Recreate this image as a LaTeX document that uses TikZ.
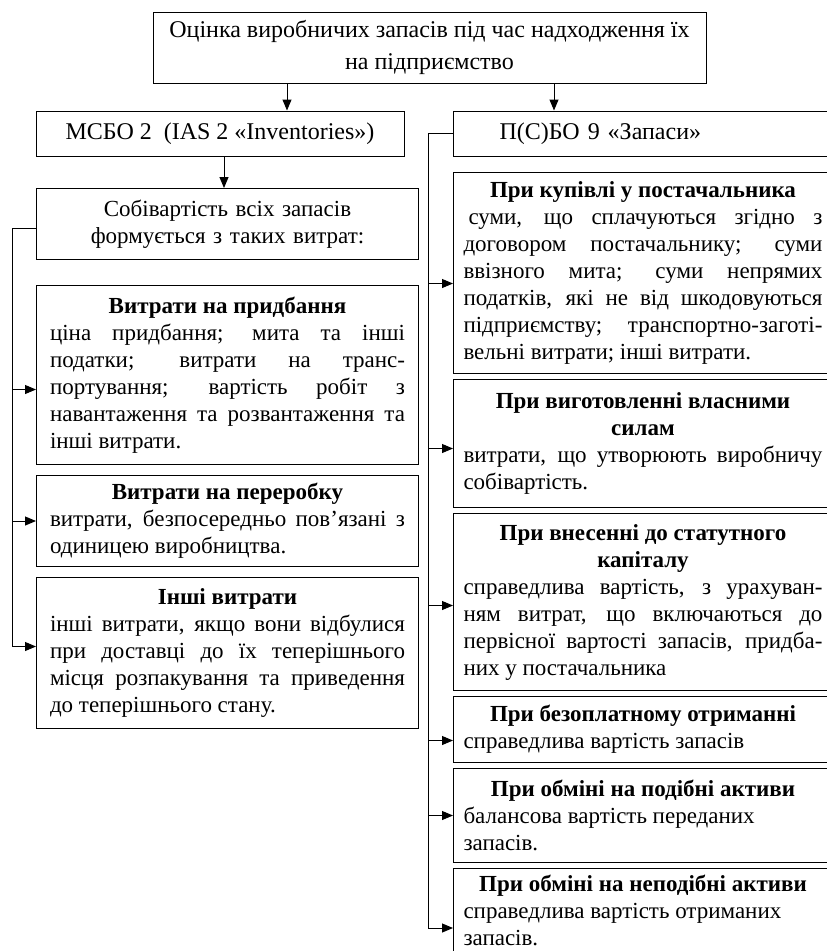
\documentclass[tikz,border=0pt]{standalone}
\usepackage{fontspec}
\setmainfont{Liberation Serif}
\usepackage{tikz}
\usetikzlibrary{arrows.meta, positioning, calc}
\setlength{\parindent}{0pt}
\tolerance=10000
\tikzset{
    block/.style={
        rectangle,
        draw=black,
        line width=1pt,
        inner ysep=2pt,
        font=\fontsize{24}{32}\selectfont,
    },
    leftbox/.style={
        block,
        text width=355pt,
        inner xsep=13.5pt,
        align=justify,
        font=\fontsize{23}{27}\selectfont,
    },
    rightbox/.style={
        block,
        text width=359pt,
        inner xsep=10pt,
        align=justify,
        font=\fontsize{23}{27}\selectfont,
    },
}
\newcommand{\boxtitle}[1]{{\centering\bfseries #1\par}}

\begin{document}
\begin{tikzpicture}[x=1pt, y=-1pt, >={Triangle[length=11pt,width=9pt]}, line width=1pt]
    \useasboundingbox (0,0) rectangle (827,951);
    \clip (0,0) rectangle (827,951);

    % top level
    \node [block, align=center, minimum width=553pt, minimum height=71pt] (top) at (429.5,47.5)
        {Оцінка виробничих запасів під час надходження їх\\на підприємство};
    \node [block, minimum width=368pt, minimum height=45pt] (ias) at (220,133.5)
        {МСБО 2\ \ (IAS 2 «Inventories»)};
    \node [block, anchor=west, text width=359pt, inner xsep=10pt, align=left, minimum height=45pt] (psbo) at (453,133.5)
        {\hspace*{36pt}П(С)БО 9 «Запаси»};

    % left column
    \node [leftbox, align=center, anchor=north west, minimum height=71pt] (cost) at (36,188)
        {Собівартість всіх запасів\\формується з таких витрат:};
    \node [leftbox, below=25pt of cost, minimum height=179pt] (buy) {\boxtitle{Витрати на придбання}
        ціна придбання; мита та інші\linebreak
        податки; витрати на транс-\linebreak
        портування; вартість робіт з\linebreak
        навантаження та розвантаження та\linebreak
        інші витрати.};
    \node [leftbox, below=10pt of buy, minimum height=91pt] (proc) {\boxtitle{Витрати на переробку}
        витрати, безпосередньо пов’язані з\linebreak
        одиницею виробництва.};
    \node [leftbox, below=10pt of proc, minimum height=151pt] (other) {\boxtitle{Інші витрати}
        інші витрати, якщо вони відбулися\linebreak
        при доставці до їх теперішнього\linebreak
        місця розпакування та приведення\linebreak
        до теперішнього стану.};

    % right column
    \node [rightbox, anchor=north west, minimum height=201pt] (buysup) at (453,172) {\boxtitle{При купівлі у постачальника}
        \hspace*{5pt}суми, що сплачуються згідно з\linebreak
        договором постачальнику; суми\linebreak
        ввізного мита; суми непрямих\linebreak
        податків, які не від шкодовуються\linebreak
        підприємству; транспортно-заготі-\linebreak
        вельні витрати; інші витрати.};
    \node [rightbox, below=5pt of buysup, minimum height=128pt] (own) {\boxtitle{При виготовленні власними\\силам}
        витрати, що утворюють виробничу\linebreak
        собівартість.};
    \node [rightbox, below=5pt of own, minimum height=177pt] (capital) {\boxtitle{При внесенні до статутного\\капіталу}
        справедлива вартість, з урахуван-\linebreak
        ням витрат, що включаються до\linebreak
        первісної вартості запасів, придба-\linebreak
        них у постачальника};
    \node [rightbox, below=5pt of capital, minimum height=66pt] (free) {\boxtitle{При безоплатному отриманні}
        справедлива вартість запасів};
    \node [rightbox, below=5pt of free, minimum height=94pt] (similar) {\boxtitle{При обміні на подібні активи}
        балансова вартість переданих\newline
        запасів.};
    \node [rightbox, below=5pt of similar, inner ysep=7pt, text depth=90pt] (dissimilar) {\boxtitle{При обміні на неподібні активи}
        справедлива вартість отриманих\newline
        запасів.};

    % connectors
    \coordinate (t1) at ([xshift=-142.5pt]top.south);
    \coordinate (t2) at ([xshift=124.5pt]top.south);
    \coordinate (m1) at ([xshift=4pt]ias.south);
    \draw[->] (t1) -- (t1 |- ias.north);
    \draw[->] (t2) -- (t2 |- psbo.north);
    \draw[->] (m1) -- (m1 |- cost.north);

    \draw ([yshift=-4.5pt]cost.west) -- ++(-24,0) coordinate (lbus);
    \draw[->] (lbus) |- ([yshift=-14.5pt]buy.west);
    \draw[->] (lbus) |- (proc.west);
    \draw[->] (lbus) |- ([yshift=6.5pt]other.west);

    \draw (psbo.west) -- ++(-25,0) coordinate (rbus);
    \draw[->] (rbus) |- ([yshift=-10.5pt]buysup.west);
    \draw[->] (rbus) |- ([yshift=-5pt]own.west);
    \draw[->] (rbus) |- ([yshift=-3.5pt]capital.west);
    \draw[->] (rbus) |- ([yshift=-11pt]free.west);
    \draw[->] (rbus) |- (similar.west);
    \draw[->] (rbus) |- ([yshift=-60pt]dissimilar.north west);
\end{tikzpicture}
\end{document}
